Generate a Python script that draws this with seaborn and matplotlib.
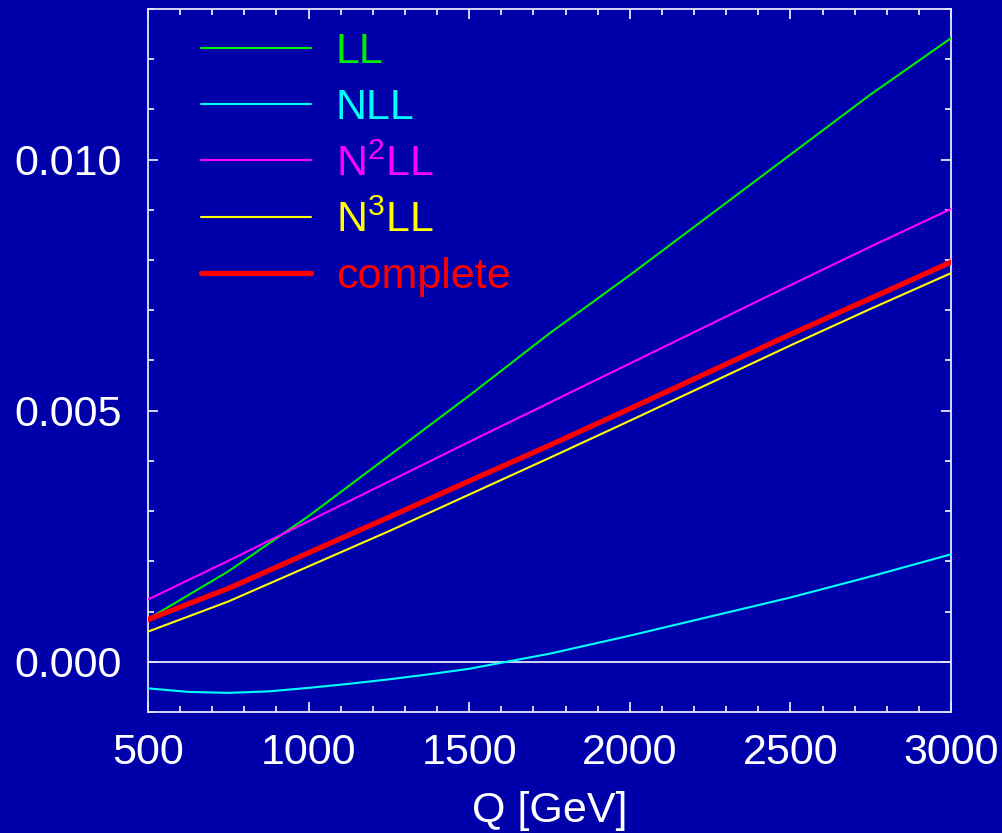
import numpy as np
import pandas as pd
import seaborn as sns
import matplotlib.pyplot as plt
from matplotlib.ticker import MultipleLocator

# values, Q in GeV
q = [500, 750, 1000, 1250, 1500, 1750, 2000, 2250, 2500, 2750, 3000]
ll = [0.00085, 0.0018, 0.0029, 0.0041, 0.0053, 0.00654, 0.0077, 0.0089, 0.0101, 0.0113, 0.01242]
n2ll = [0.00124, 0.00201, 0.0028, 0.00359, 0.00438, 0.00516, 0.00594, 0.00672, 0.0075, 0.00827, 0.00902]
n3ll = [0.0006, 0.0012, 0.0019, 0.0026, 0.00333, 0.00406, 0.0048, 0.00555, 0.0063, 0.00703, 0.00774]
complete = [0.00084, 0.00146, 0.00217, 0.00288, 0.0036, 0.00431, 0.00504, 0.00578, 0.00652, 0.00724, 0.00796]

# NLL bends more, so it is read on a finer grid
q_nll = [500, 625, 750, 875, 1000, 1125, 1250, 1375, 1500, 1625, 1750, 1875, 2000, 2250, 2500, 2750, 3000]
nll = [-0.00053, -0.0006, -0.00062, -0.00059, -0.00052, -0.00044, -0.00035, -0.00025, -0.00014,
       0.00001, 0.00016, 0.00034, 0.00052, 0.0009, 0.00128, 0.0017, 0.00214]

labels = ['LL', 'NLL', r'$\mathregular{N^2LL}$', r'$\mathregular{N^3LL}$', 'complete']
colors = ['#00EE00', '#00FFFF', '#FF00FF', '#FFFF00', '#FF0000']
widths = [1.5, 1.5, 1.5, 1.5, 3.8]

bg = '#0000AA'
fg = '#E6E6FF'

sns.set_style('ticks')
plt.rcParams['font.family'] = ['Liberation Sans', 'DejaVu Sans']
plt.rcParams['mathtext.fontset'] = 'custom'
plt.rcParams['mathtext.rm'] = 'Liberation Sans'

fig = plt.figure(figsize=(10.02, 8.33), dpi=100, facecolor=bg)
ax = fig.add_axes([0.1477, 0.1453, 0.8015, 0.8439])
ax.set_facecolor(bg)

ax.axhline(0, color=fg, lw=1.3, zorder=1)

series = [(q, ll), (q_nll, nll), (q, n2ll), (q, n3ll), (q, complete)]
for (xs, ys), lab, col, lw in zip(series, labels, colors, widths):
    df = pd.DataFrame({'Q': xs, 'v': ys})
    sns.lineplot(data=df, x='Q', y='v', ax=ax, color=col, lw=lw, label=lab, zorder=3)

ax.set_xlim(500, 3000)
ax.set_ylim(-0.001, 0.013)
ax.xaxis.set_major_locator(MultipleLocator(500))
ax.xaxis.set_minor_locator(MultipleLocator(100))
ax.yaxis.set_major_locator(MultipleLocator(0.005))
ax.yaxis.set_minor_locator(MultipleLocator(0.001))
ax.yaxis.set_major_formatter(plt.FuncFormatter(lambda v, p: f'{v:.3f}'))

ax.tick_params(which='both', direction='in', top=True, right=True, colors=fg, width=1.3)
ax.tick_params(which='major', length=7, labelsize=31, labelcolor='white')
ax.tick_params(axis='x', which='major', pad=15)
ax.tick_params(axis='y', which='major', pad=19)
ax.tick_params(which='minor', length=4)
for s in ax.spines.values():
    s.set_color(fg)
    s.set_linewidth(1.3)

ax.set_xlabel('Q [GeV]', fontsize=31, color='white', labelpad=13)
ax.set_ylabel('')

leg = ax.legend(loc='upper left', bbox_to_anchor=(0.018, 1.022), frameon=False,
                fontsize=31, handlelength=2.55, handletextpad=0.58,
                labelspacing=0.37, labelcolor='linecolor')

fig.savefig('out.png', dpi=100, facecolor=bg)
